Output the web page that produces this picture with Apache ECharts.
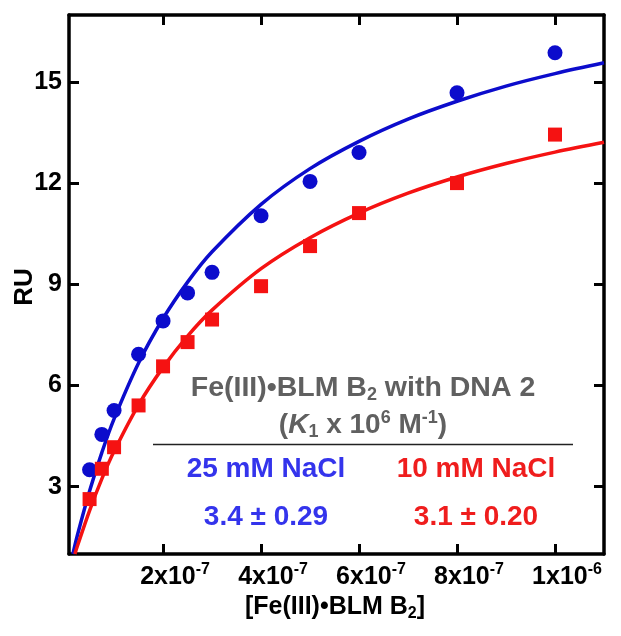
<!DOCTYPE html>
<html>
<head>
<meta charset="utf-8">
<script src="https://cdn.jsdelivr.net/npm/echarts@6/dist/echarts.min.js"></script>
<style>
html,body{margin:0;padding:0;background:#fff;}
#chart{width:621px;height:636px;}
</style>
</head>
<body>
<div id="chart"></div>
<script>
// ---- data ----
const concentrations = [5e-8, 7.5e-8, 1e-7, 1.5e-7, 2e-7, 2.5e-7, 3e-7, 4e-7, 5e-7, 6e-7, 8e-7, 1e-6];
const ru25mM = [3.50, 4.55, 5.26, 6.93, 7.92, 8.75, 9.36, 11.04, 12.06, 12.92, 14.69, 15.88];
const ru10mM = [2.63, 3.53, 4.17, 5.41, 6.57, 7.29, 7.96, 8.95, 10.14, 11.12, 12.01, 13.45];

const fitX25 = [1.6e-8, 2.5e-8, 5e-8, 7.5e-8, 1e-7, 1.5e-7, 2e-7, 2.5e-7, 3e-7, 4e-7, 5e-7, 6e-7, 7e-7, 8e-7, 9e-7, 1e-6, 1.1e-6];
const fitY25 = [1.0, 1.55, 2.87, 4.01, 5.01, 6.67, 7.99, 9.07, 9.97, 11.38, 12.44, 13.25, 13.91, 14.44, 14.89, 15.26, 15.58];
const fitX10 = [2.0e-8, 2.5e-8, 5e-8, 7.5e-8, 1e-7, 1.5e-7, 2e-7, 2.5e-7, 3e-7, 4e-7, 5e-7, 6e-7, 7e-7, 8e-7, 9e-7, 1e-6, 1.1e-6];
const fitY10 = [1.0, 1.23, 2.29, 3.23, 4.05, 5.43, 6.54, 7.47, 8.24, 9.47, 10.39, 11.12, 11.71, 12.19, 12.59, 12.93, 13.22];

const xTickValues = [2e-7, 4e-7, 6e-7, 8e-7, 1e-6];
const xTickMantissa = ['2', '4', '6', '8', '1'];
const xTickExponent = ['-7', '-7', '-7', '-7', '-6'];
const yTickValues = [3, 6, 9, 12, 15];

const xMin = 8e-9, xMax = 1.1e-6, yMin = 1, yMax = 17;

const titleLine1 = ['Fe(III)•BLM B', '2', ' with DNA 2'];
const legend25 = '25 mM NaCl', legend10 = '10 mM NaCl';
const k25 = '3.4 ± 0.29', k10 = '3.1 ± 0.20';
// --------------------------------------

const FONT = 'Arial, "Liberation Sans", Helvetica, sans-serif';
const BLUE = '#0c0ccc', RED = '#f51212';
const BLUE_T = '#3434ec', RED_T = '#ef1d1d', GRAY = '#606060';

const zip = (xs, ys) => xs.map((x, i) => [x, ys[i]]);

const chart = echarts.init(document.getElementById('chart'), null, {renderer: 'canvas'});

const axisLineStyle = {color: '#000', width: 3.5};
const tickStyle = {color: '#000', width: 3};

const option = {
  animation: false,
  backgroundColor: '#fff',
  grid: {left: 69, right: 17, top: 15, bottom: 82, containLabel: false, outerBoundsMode: 'none'},
  xAxis: [{
    type: 'value', min: xMin, max: xMax, position: 'bottom',
    axisLine: {show: true, onZero: false, lineStyle: axisLineStyle},
    axisTick: {show: true, inside: true, length: 10, lineStyle: tickStyle, customValues: xTickValues},
    splitLine: {show: false},
    axisLabel: {
      show: true, margin: 8, customValues: xTickValues,
      formatter: function (v) {
        let idx = 0, best = Infinity;
        xTickValues.forEach((t, i) => { const d = Math.abs(t - v); if (d < best) { best = d; idx = i; } });
        return '{sp|}{m|' + xTickMantissa[idx] + 'x10}{s|' + xTickExponent[idx] + '}';
      },
      rich: {
        sp: {width: 24},
        m: {fontFamily: FONT, fontWeight: 'bold', fontSize: 25, color: '#000', lineHeight: 30},
        s: {fontFamily: FONT, fontWeight: 'bold', fontSize: 16, color: '#000', verticalAlign: 'top', lineHeight: 16}
      }
    }
  }, {
    type: 'value', min: xMin, max: xMax, position: 'top',
    axisLine: {show: true, onZero: false, lineStyle: axisLineStyle},
    axisTick: {show: true, inside: true, length: 10, lineStyle: tickStyle, customValues: xTickValues},
    splitLine: {show: false},
    axisLabel: {show: false}
  }],
  yAxis: [{
    type: 'value', min: yMin, max: yMax, position: 'left',
    axisLine: {show: true, onZero: false, lineStyle: axisLineStyle},
    axisTick: {show: true, inside: true, length: 10, lineStyle: tickStyle, customValues: yTickValues},
    splitLine: {show: false},
    axisLabel: {show: true, margin: 7, customValues: yTickValues, fontFamily: FONT, fontWeight: 'bold', fontSize: 25, color: '#000'}
  }, {
    type: 'value', min: yMin, max: yMax, position: 'right',
    axisLine: {show: true, onZero: false, lineStyle: axisLineStyle},
    axisTick: {show: true, inside: true, length: 10, lineStyle: tickStyle, customValues: yTickValues},
    splitLine: {show: false},
    axisLabel: {show: false}
  }],
  series: [
    {type: 'line', name: 'fit 25 mM', data: zip(fitX25, fitY25), smooth: 0.35, showSymbol: false, symbol: 'none',
     lineStyle: {color: BLUE, width: 3.5}, z: 2},
    {type: 'scatter', name: '25 mM NaCl', data: zip(concentrations, ru25mM), symbol: 'circle', symbolSize: 15,
     itemStyle: {color: BLUE, opacity: 1}, z: 3},
    {type: 'line', name: 'fit 10 mM', data: zip(fitX10, fitY10), smooth: 0.35, showSymbol: false, symbol: 'none',
     lineStyle: {color: RED, width: 3.5}, z: 4},
    {type: 'scatter', name: '10 mM NaCl', data: zip(concentrations, ru10mM), symbol: 'rect', symbolSize: 14,
     itemStyle: {color: RED, opacity: 1}, z: 5}
  ],
  graphic: [
    {type: 'text', x: 25, y: 287, rotation: Math.PI / 2, z: 10,
     style: {text: 'RU', fontFamily: FONT, fontWeight: 'bold', fontSize: 26, fill: '#000', align: 'center', verticalAlign: 'middle'}},
    {type: 'text', x: 335, y: 607, z: 10,
     style: {text: '{m|[Fe(III)•BLM B}{s|2}{m|]}', align: 'center', verticalAlign: 'middle',
       rich: {
         m: {fontFamily: FONT, fontWeight: 'bold', fontSize: 25, fill: '#000', lineHeight: 30},
         s: {fontFamily: FONT, fontWeight: 'bold', fontSize: 16, fill: '#000', verticalAlign: 'bottom', lineHeight: 16}
       }}},
    {type: 'text', x: 363, y: 388, z: 10,
     style: {text: '{g|' + titleLine1[0] + '}{s|' + titleLine1[1] + '}{g|' + titleLine1[2] + '}', align: 'center', verticalAlign: 'middle',
       rich: {
         g: {fontFamily: FONT, fontWeight: 'bold', fontSize: 28.5, fill: GRAY, lineHeight: 32},
         s: {fontFamily: FONT, fontWeight: 'bold', fontSize: 18, fill: GRAY, verticalAlign: 'bottom', lineHeight: 18}
       }}},
    {type: 'text', x: 363, y: 425, z: 10,
     style: {text: '{g|(}{i|K}{s|1}{g| x 10}{p|6}{g| M}{p|-1}{g|)}', align: 'center', verticalAlign: 'middle',
       rich: {
         g: {fontFamily: FONT, fontWeight: 'bold', fontSize: 28, fill: GRAY, lineHeight: 32},
         i: {fontFamily: FONT, fontWeight: 'bold', fontStyle: 'italic', fontSize: 28, fill: GRAY, lineHeight: 32},
         s: {fontFamily: FONT, fontWeight: 'bold', fontSize: 18, fill: GRAY, verticalAlign: 'bottom', lineHeight: 18},
         p: {fontFamily: FONT, fontWeight: 'bold', fontSize: 18, fill: GRAY, verticalAlign: 'top', lineHeight: 18}
       }}},
    {type: 'line', z: 10, shape: {x1: 153, y1: 444.5, x2: 573, y2: 444.5}, style: {stroke: '#222', lineWidth: 1.5}},
    {type: 'text', x: 266, y: 469, z: 10,
     style: {text: legend25, fontFamily: FONT, fontWeight: 'bold', fontSize: 28, fill: BLUE_T, align: 'center', verticalAlign: 'middle'}},
    {type: 'text', x: 476, y: 469, z: 10,
     style: {text: legend10, fontFamily: FONT, fontWeight: 'bold', fontSize: 28, fill: RED_T, align: 'center', verticalAlign: 'middle'}},
    {type: 'text', x: 266, y: 517, z: 10,
     style: {text: k25, fontFamily: FONT, fontWeight: 'bold', fontSize: 28, fill: BLUE_T, align: 'center', verticalAlign: 'middle'}},
    {type: 'text', x: 476, y: 517, z: 10,
     style: {text: k10, fontFamily: FONT, fontWeight: 'bold', fontSize: 28, fill: RED_T, align: 'center', verticalAlign: 'middle'}}
  ]
};
chart.setOption(option);
</script>
</body>
</html>
